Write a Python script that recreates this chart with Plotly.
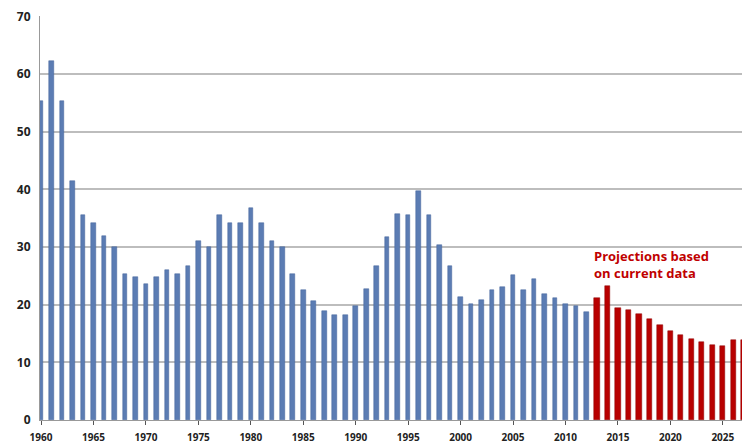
import plotly.graph_objects as go

# historical values 1960-2012
hist_years = list(range(1960, 2013))
hist_values = [
    55.3, 62.3, 55.3, 41.4, 35.5, 34.2, 32.0, 30.0, 25.3, 24.8,
    23.6, 24.8, 26.0, 25.3, 26.8, 31.0, 30.0, 35.5, 34.2, 34.2,
    36.8, 34.2, 31.1, 30.0, 25.4, 22.6, 20.6, 19.0, 18.3, 18.3,
    19.7, 22.8, 26.8, 31.8, 35.7, 35.5, 39.8, 35.5, 30.3, 26.8,
    21.3, 20.1, 20.9, 22.5, 23.0, 25.2, 22.5, 24.5, 21.9, 21.2,
    20.2, 19.8, 18.7,
]

# projections 2013-2027
proj_years = list(range(2013, 2028))
proj_values = [
    21.2, 23.3, 19.5, 19.1, 18.4, 17.5, 16.4, 15.5, 14.7, 14.0,
    13.5, 13.1, 12.9, 13.8, 13.8,
]

y_ticks = [0, 10, 20, 30, 40, 50, 60, 70]
x_ticks = list(range(1960, 2030, 5))

fig = go.Figure()
fig.add_trace(go.Bar(
    x=hist_years, y=hist_values, width=0.44,
    marker=dict(color="#5b7cb3", line=dict(color="#41609a", width=0.5)),
))
fig.add_trace(go.Bar(
    x=proj_years, y=proj_values, width=0.5,
    marker=dict(color="#b80000", line=dict(color="#8c0000", width=0.5)),
))

fig.add_annotation(
    x=2012.55, y=27.0, xanchor="left", yanchor="middle", align="left",
    text="Projections based<br>on current data", showarrow=False,
    font=dict(family="Open Sans", size=13, color="#c00000", weight="bold"),
)

# page body adds an 8px offset, so margins are shifted to compensate
fig.update_layout(
    width=750, height=446,
    margin=dict(l=32, r=10, t=8, b=34),
    paper_bgcolor="white", plot_bgcolor="white",
    showlegend=False, bargap=0,
    font=dict(family="Open Sans", color="#222222"),
)
fig.update_xaxes(
    range=[1959.9, 2027.4], tickvals=x_ticks, ticktext=[str(t) for t in x_ticks],
    showgrid=False, showline=True, linecolor="#999999", linewidth=1,
    ticks="outside", ticklen=4, tickcolor="#555555", automargin=False,
    ticklabelstandoff=4,
    tickfont=dict(size=10, family="Open Sans", color="#222222", weight="bold"),
)
fig.update_yaxes(
    range=[0, 70.1], tickvals=y_ticks,
    showgrid=True, gridcolor="#bdbdbd", gridwidth=1.5,
    showline=True, linecolor="#999999", linewidth=1,
    ticks="", zeroline=False, automargin=False, ticklabelstandoff=6,
    ticklabeloverflow="allow",
    tickfont=dict(size=12, family="Open Sans", color="#222222", weight="bold"),
)

fig.write_html("out.html")
